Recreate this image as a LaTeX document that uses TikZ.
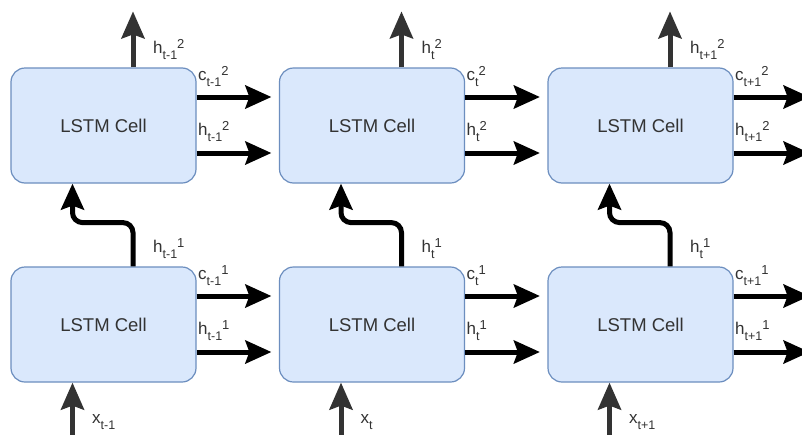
\documentclass[tikz,border=0pt]{standalone}
\usepackage{fontspec}
\setmainfont{Liberation Sans}
\usetikzlibrary{arrows.meta,calc}
\definecolor{cellfill}{HTML}{DAE8FC}
\definecolor{celldraw}{HTML}{6C8EBF}
\definecolor{txt}{HTML}{333333}
\definecolor{darkarr}{HTML}{333333}
\newcommand{\lbl}[3]{#1\raisebox{-6pt}{\fontsize{12.5}{12.5}\selectfont #2}\raisebox{4.5pt}{\fontsize{13}{13}\selectfont #3}}
\begin{document}
\begin{tikzpicture}[x=1pt,y=-1pt,
  cell/.style={draw=celldraw, fill=cellfill, line width=1.2pt, rounded corners=14pt,
    minimum width=185pt, minimum height=115pt, inner sep=0pt, text=txt,
    font=\fontsize{18.5}{21}\selectfont},
  blackarr/.style={line width=5pt, draw=black, -{Stealth[length=26pt,width=23pt,inset=4pt]}},
  greyarr/.style={line width=5pt, draw=darkarr, -{Stealth[length=27pt,width=23pt,inset=4pt]}},
  lab/.style={anchor=base west, inner sep=0pt, text=txt, font=\fontsize{17}{19}\selectfont}]
\useasboundingbox (0,0) rectangle (802,434);
\fill[white] (0,0) rectangle (802,434);
\foreach \i/\cx in {1/103.5, 2/372, 3/640.5} {
  \node[cell] (a\i) at (\cx,125.5) {LSTM Cell};
  \node[cell] (b\i) at (\cx,324.5) {LSTM Cell};
}
% horizontal arrows between cells
\foreach \i/\j in {1/2, 2/3} {
  \draw[blackarr] ([yshift=28.5pt]a\i.east) -- ([yshift=28.5pt,xshift=-7.5pt]a\j.west);
  \draw[blackarr] ([yshift=-27.5pt]a\i.east) -- ([yshift=-27.5pt,xshift=-7.5pt]a\j.west);
  \draw[blackarr] ([yshift=28.5pt]b\i.east) -- ([yshift=28.5pt,xshift=-7.5pt]b\j.west);
  \draw[blackarr] ([yshift=-27.5pt]b\i.east) -- ([yshift=-27.5pt,xshift=-7.5pt]b\j.west);
}
% last column outputs to the right
\coordinate (ac3) at ([yshift=28.5pt,xshift=76pt]a3.east);
\coordinate (ah3) at ([yshift=-27.5pt,xshift=76pt]a3.east);
\coordinate (bc3) at ([yshift=28.5pt,xshift=76pt]b3.east);
\coordinate (bh3) at ([yshift=-27.5pt,xshift=76pt]b3.east);
\draw[blackarr] ([yshift=28.5pt]a3.east) -- (ac3);
\draw[blackarr] ([yshift=-27.5pt]a3.east) -- (ah3);
\draw[blackarr] ([yshift=28.5pt]b3.east) -- (bc3);
\draw[blackarr] ([yshift=-27.5pt]b3.east) -- (bh3);
% vertical arrows
\foreach \i in {1,2,3} {
  \coordinate (o\i) at ([xshift=29.5pt,yshift=56pt]a\i.north);
  \draw[greyarr] ([xshift=29.5pt]a\i.north) -- (o\i);
  \coordinate (in\i) at ([xshift=-31pt,yshift=-60pt]b\i.south);
  \draw[greyarr] (in\i) -- ([xshift=-31pt]b\i.south);
  \draw[blackarr, rounded corners=10pt] ([xshift=29.5pt]b\i.north)
     |- ([xshift=-31pt,yshift=-39pt]a\i.south) -- ([xshift=-31pt]a\i.south);
}
% labels
\foreach \i/\dx/\ta/\tb in {1/0/{t-1}/{t-1}, 2/268.5/t/t, 3/537/{t+1}/t} {
  \node[lab] (lo\i) at (153+\dx,53) {\lbl{h}{\ta}{2}};
  \node[lab] (lc2\i) at (198+\dx,80) {\lbl{c}{\ta}{2}};
  \node[lab] (lh2\i) at (198+\dx,135) {\lbl{h}{\ta}{2}};
  \node[lab] (lu\i) at (153+\dx,252) {\lbl{h}{\tb}{1}};
  \node[lab] (lc1\i) at (198+\dx,279) {\lbl{c}{\ta}{1}};
  \node[lab] (lh1\i) at (198+\dx,334) {\lbl{h}{\ta}{1}};
  \node[lab] (lx\i) at (92+\dx,423) {\lbl{x}{\ta}{}};
}
\end{tikzpicture}
\end{document}
